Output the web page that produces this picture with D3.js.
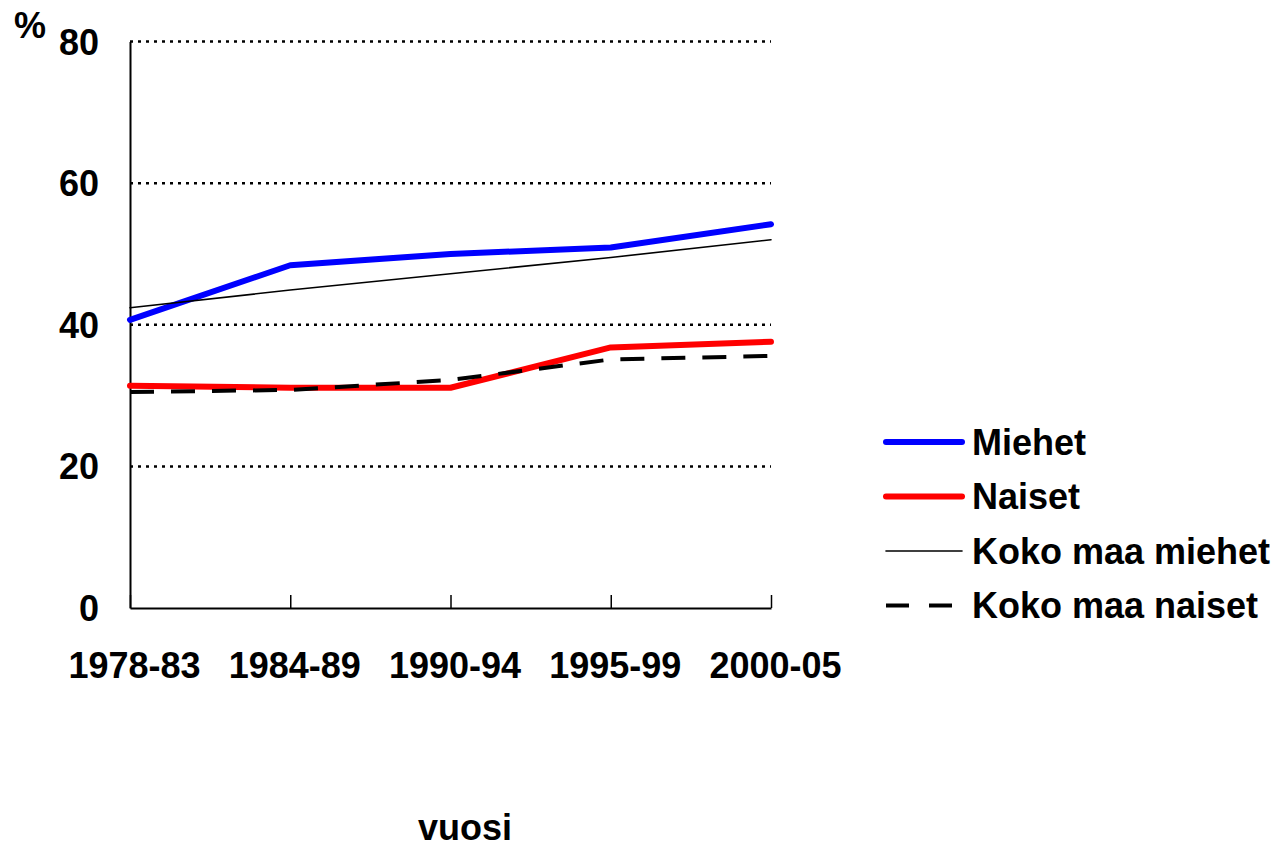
<!DOCTYPE html>
<html>
<head>
<meta charset="utf-8">
<script src="https://cdn.jsdelivr.net/npm/d3@7"></script>
<style>
  body { margin: 0; background: #fff; }
  text { font-family: "Liberation Sans", Arial, sans-serif; font-weight: bold; fill: #000; }
</style>
</head>
<body>
<svg></svg>
<script>
const width = 1277;
const height = 848;

// data
const periods = ['1978-83', '1984-89', '1990-94', '1995-99', '2000-05'];
const miehet = [40.7, 48.4, 50.0, 50.9, 54.2];
const naiset = [31.4, 31.1, 31.1, 36.8, 37.6];
const kokoMiehet = [42.4, 44.9, 47.2, 49.5, 52.0];
const kokoNaiset = [30.5, 30.8, 32.2, 35.1, 35.6];
const yTicks = [0, 20, 40, 60, 80];

const seriesNames = ['Miehet', 'Naiset', 'Koko maa miehet', 'Koko maa naiset'];
const seriesValues = [miehet, naiset, kokoMiehet, kokoNaiset];

const styles = [
    { color: '#0000ff', w: 6, dash: null },
    { color: '#ff0000', w: 6, dash: null },
    { color: '#000000', w: 1.6, dash: null },
    { color: '#000000', w: 4, dash: '24,17' }
];

const plotLeft = 130, plotRight = 771, plotTop = 41.5, plotBottom = 608;
const fontSize = 36;

let svg = d3.select('svg')
    .attr('width', width)
    .attr('height', height);

let xScale = d3.scalePoint()
    .domain(periods)
    .range([plotLeft, plotRight]);

let yScale = d3.scaleLinear()
    .domain([0, 80])
    .range([plotBottom, plotTop]);

// dotted gridlines
svg.append('g')
    .selectAll('line')
    .data(yTicks.filter(d => d > 0))
    .enter()
    .append('line')
    .attr('x1', plotLeft)
    .attr('x2', plotRight)
    .attr('y1', d => yScale(d))
    .attr('y2', d => yScale(d))
    .attr('stroke', '#000')
    .attr('stroke-width', 2.5)
    .attr('stroke-dasharray', '3,5');

// y axis
let yAxis = d3.axisLeft(yScale).tickValues(yTicks).tickSize(0).tickPadding(31);
let yg = svg.append('g')
    .attr('transform', 'translate(' + plotLeft + ',0)')
    .call(yAxis);
yg.select('.domain').attr('stroke', '#000').attr('stroke-width', 2);
yg.selectAll('text')
    .attr('font-size', fontSize)
    .attr('dy', '0.35em')
    .style('font-family', '"Liberation Sans", Arial, sans-serif')
    .style('font-weight', 'bold');

// x axis, ticks pointing up
let xAxis = d3.axisBottom(xScale).tickSizeInner(-13).tickSizeOuter(0).tickPadding(0);
let xg = svg.append('g')
    .attr('transform', 'translate(0,' + plotBottom + ')')
    .call(xAxis);
xg.select('.domain').attr('stroke', '#000').attr('stroke-width', 2);
xg.selectAll('.tick line').attr('stroke', '#000').attr('stroke-width', 1.5);
xg.selectAll('text')
    .attr('font-size', fontSize)
    .attr('y', 70)
    .attr('dy', 0)
    .attr('dx', 4)
    .style('font-family', '"Liberation Sans", Arial, sans-serif')
    .style('font-weight', 'bold');

// series lines
let line = d3.line()
    .x((d, i) => xScale(periods[i]))
    .y(d => yScale(d));

seriesValues.forEach((vals, k) => {
    svg.append('path')
        .datum(vals)
        .attr('d', line)
        .attr('fill', 'none')
        .attr('stroke', styles[k].color)
        .attr('stroke-width', styles[k].w)
        .attr('stroke-linejoin', 'round')
        .attr('stroke-linecap', styles[k].dash ? 'butt' : 'round')
        .attr('stroke-dasharray', styles[k].dash);
});

// legend
let legend = svg.append('g');
seriesNames.forEach((name, k) => {
    let y = 442 + k * 54.5;
    legend.append('line')
        .attr('x1', 886).attr('x2', 962)
        .attr('y1', y).attr('y2', y)
        .attr('stroke', styles[k].color)
        .attr('stroke-width', styles[k].w)
        .attr('stroke-linecap', styles[k].dash ? 'butt' : 'round')
        .attr('stroke-dasharray', styles[k].dash ? '23,20' : null);
    legend.append('text')
        .attr('x', 972)
        .attr('y', y)
        .attr('dy', '0.35em')
        .attr('font-size', fontSize)
        .text(name);
});

// % label and x title
svg.append('text')
    .attr('x', 14)
    .attr('y', 38)
    .attr('font-size', fontSize)
    .text('%');

svg.append('text')
    .attr('x', 465)
    .attr('y', 840)
    .attr('text-anchor', 'middle')
    .attr('font-size', fontSize)
    .text('vuosi');
</script>
</body>
</html>
